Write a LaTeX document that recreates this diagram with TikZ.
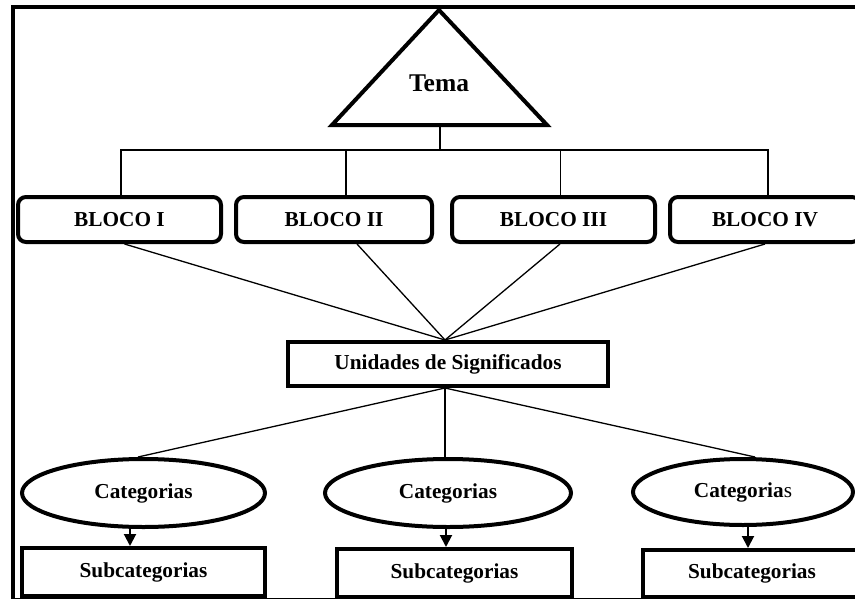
\documentclass[tikz,border=0pt]{standalone}
\usepackage{fontspec}
\setmainfont{Liberation Serif}
\usetikzlibrary{shapes.geometric,arrows.meta}
\begin{document}
\begin{tikzpicture}[x=1pt,y=-1pt,
  txt/.style={font=\fontsize{21.3}{25}\selectfont\bfseries, inner sep=0pt},
  blocobox/.style={txt, draw, line width=4pt, rounded corners=8pt, minimum height=45pt},
  sqbox/.style={txt, draw, line width=4pt, minimum height=45pt},
  catell/.style={txt, draw, ellipse, line width=4pt},
  conn/.style={line width=1.3pt},
  arr/.style={line width=2pt, -{Triangle[width=12pt,length=12pt]}}]
\useasboundingbox (0,0) rectangle (855,600);
\clip (0,0) rectangle (855,600);
\fill[white] (0,0) rectangle (855,600);
% frame
\draw[line width=4pt] (13,598) -- (13,7) -- (862,7);
\draw[line width=1.3pt] (11,598.5) -- (860,598.5);
% triangle Tema
\coordinate (tapex) at (439,10);
\coordinate (tleft) at (332,125);
\coordinate (tright) at (547,125);
\coordinate (tbase) at (440,125);
\draw[line width=4pt, line join=miter] (tapex) -- (tleft) -- (tright) -- cycle;
\node[txt, font=\fontsize{25.5}{29}\selectfont\bfseries] (tema) at (439,83) {Tema};
% blocos
\node[blocobox, minimum width=203pt] (b1) at (119.5,219.5) {BLOCO I};
\node[blocobox, minimum width=196pt] (b2) at (334,219.5) {BLOCO II};
\node[blocobox, minimum width=203pt] (b3) at (553.5,219.5) {BLOCO III};
\node[blocobox, minimum width=190pt] (b4) at (765,219.5) {BLOCO IV};
\coordinate (hub) at (440,150);
\draw[conn] (tbase) -- (hub);
\draw[conn] ([xshift=1.5pt]b1.north) |- ([xshift=3pt]b4.north |- hub) -- ([xshift=3pt]b4.north);
\draw[conn] ([xshift=12pt]b2.north) -- ([xshift=12pt]b2.north |- hub);
\draw[conn] ([xshift=7pt]b3.north) -- ([xshift=7pt]b3.north |- hub);
% unidades
\node[sqbox, minimum width=320pt, minimum height=44pt] (u) at (448,364) {Unidades de Significados};
\coordinate (utop) at ([xshift=-3pt]u.north);
\coordinate (ubot) at ([xshift=-3pt]u.south);
\draw[conn] ([xshift=5pt]b1.south) -- (utop);
\draw[conn] ([xshift=23pt]b2.south) -- (utop);
\draw[conn] ([xshift=6.5pt]b3.south) -- (utop);
\draw[conn] (b4.south) -- (utop);
% categorias
\node[catell, minimum width=243pt, minimum height=68pt] (c1) at (143.5,493) {Categorias};
\node[catell, minimum width=246pt, minimum height=68pt] (c2) at (448,493) {Categorias};
\node[catell, minimum width=220pt, minimum height=66pt] (c3) at (743,492) {Categoria{\mdseries s}};
\draw[conn] (ubot) -- ([xshift=-5.5pt]c1.north);
\draw[conn] (ubot) -- ([xshift=-3pt]c2.north);
\draw[conn] (ubot) -- ([xshift=12pt]c3.north);
% subcategorias
\node[sqbox, minimum width=243pt, minimum height=48pt] (s1) at (143.5,572) {Subcategorias};
\node[sqbox, minimum width=235pt, minimum height=48pt] (s2) at (454.5,573) {Subcategorias};
\node[sqbox, minimum width=218pt, minimum height=47pt] (s3) at (752,573.5) {Subcategorias};
\draw[arr] ([xshift=-13.5pt]c1.south) -- ([xshift=-13.5pt]c1.south |- s1.north);
\draw[arr] ([xshift=-2pt]c2.south) -- ([xshift=-2pt]c2.south |- s2.north);
\draw[arr] ([xshift=5pt]c3.south) -- ([xshift=5pt]c3.south |- s3.north);
\end{tikzpicture}
\end{document}
